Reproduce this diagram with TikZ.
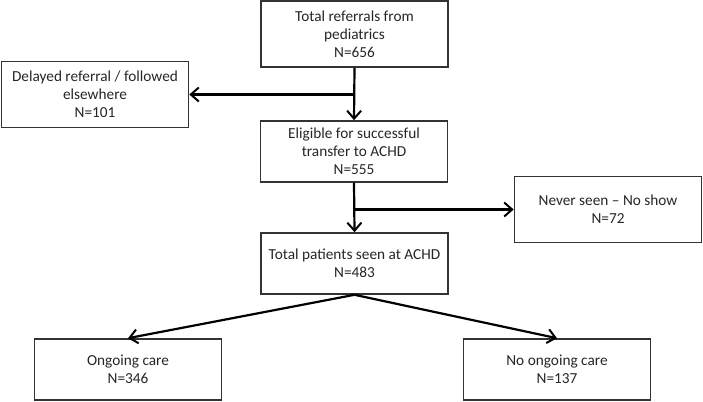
\documentclass[tikz,border=0pt]{standalone}
\usepackage{fontspec}
\setmainfont{Carlito}
\usetikzlibrary{arrows.meta}

\begin{document}
\begin{tikzpicture}[x=1pt,y=-1pt,
	box/.style={draw=black!80, line width=1.6pt, align=center, inner sep=0pt, minimum width=187pt, font=\fontsize{15.3}{18}\selectfont, text=black!85},
	flow/.style={-{Straight Barb[length=8pt,width=14pt,line width=2pt]}, line width=2.2pt}]%流程图

%\draw[help lines] (0,0) grid (703,401);

	\useasboundingbox (0,0) rectangle (703,401);%边界
	\node [box, minimum height=66pt] (refer) at (354.5,34) {Total referrals from\\pediatrics\\N=656};%转诊总数
	\node [box, minimum height=66pt] (delay) at (95,94.5) {Delayed referral / followed\\elsewhere\\N=101};%延迟
	\node [box, minimum height=61pt] (elig) at (354,151.5) {Eligible for successful\\transfer to ACHD\\N=555};%合格
	\node [box, minimum height=66pt] (never) at (608,209.5) {Never seen -- No show\\N=72};%未就诊
	\node [box, minimum height=61pt] (seen) at (354.5,263.5) {Total patients seen at ACHD\\N=483};%就诊总数
	\node [box, minimum height=61pt] (ongo) at (128,369.5) {Ongoing care\\N=346};%继续
	\node [box, minimum height=61pt] (noongo) at (557,369.5) {No ongoing care\\N=137};%不继续

	\coordinate (split1) at (refer.south |- delay.east);%分支点
	\coordinate (split2) at (elig.south |- never.west);%分支点
	\draw [flow] (refer.south)--(elig.north);
	\draw [flow] (split1)--(delay.east);
	\draw [flow] (elig.south)--(seen.north);
	\draw [flow] (split2)--(never.west);
	\draw [flow] (seen.south)--(ongo.north);
	\draw [flow] (seen.south)--(noongo.north);
\end{tikzpicture}
\end{document}
